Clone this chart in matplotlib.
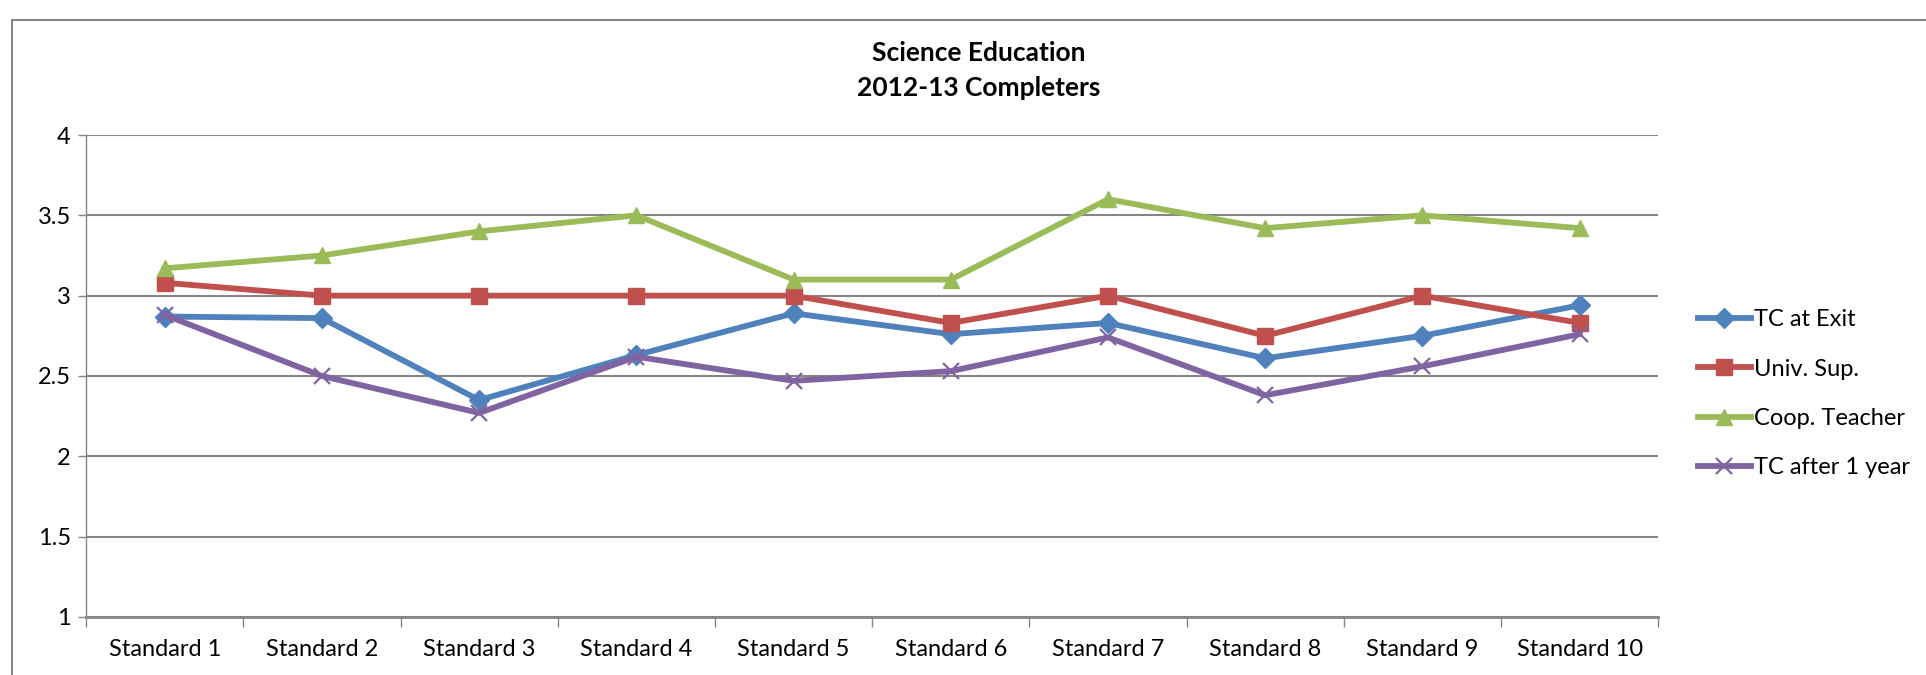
import matplotlib.pyplot as plt
from matplotlib.patches import Rectangle
from matplotlib.ticker import FixedLocator

plt.rcParams['font.family'] = ['Lato', 'DejaVu Sans']

# data
standards = ["Standard 1", "Standard 2", "Standard 3", "Standard 4", "Standard 5",
             "Standard 6", "Standard 7", "Standard 8", "Standard 9", "Standard 10"]
tc_exit = [2.87, 2.86, 2.35, 2.63, 2.89, 2.76, 2.83, 2.61, 2.75, 2.94]
univ_sup = [3.08, 3.0, 3.0, 3.0, 3.0, 2.83, 3.0, 2.75, 3.0, 2.83]
coop_teacher = [3.17, 3.25, 3.40, 3.5, 3.1, 3.1, 3.6, 3.42, 3.5, 3.42]
tc_after_1yr = [2.88, 2.5, 2.27, 2.62, 2.47, 2.53, 2.74, 2.38, 2.56, 2.76]
yticks = [1, 1.5, 2, 2.5, 3, 3.5, 4]

fig = plt.figure(figsize=(19.26, 6.75), dpi=100)
ax = fig.add_axes([0.0447, 0.086, 0.8163, 0.714])

x = list(range(len(standards)))
ax.plot(x, tc_exit, color="#4F81BD", lw=4.2, marker="D", ms=10, label="TC at Exit")
ax.plot(x, univ_sup, color="#C0504D", lw=4.2, marker="s", ms=11.5, label="Univ. Sup.")
ax.plot(x, coop_teacher, color="#9BBB59", lw=4.2, marker="^", ms=12, label="Coop. Teacher")
ax.plot(x, tc_after_1yr, color="#8064A2", lw=4.2, marker="x", ms=12, mew=1.6,
        label="TC after 1 year")

ax.set_xlim(-0.5, len(standards) - 0.5)
ax.set_ylim(1, 4)
ax.set_yticks(yticks)
ax.set_yticklabels([f"{v:g}" for v in yticks])
ax.set_xticks(x)
ax.set_xticklabels(standards)
ax.xaxis.set_minor_locator(FixedLocator([i - 0.5 for i in range(len(standards) + 1)]))
ax.tick_params(axis="x", which="major", length=0, pad=16, labelsize=17)
ax.tick_params(axis="x", which="minor", length=7, color="#868686", width=1)
ax.tick_params(axis="y", length=6, color="#868686", width=1, labelsize=17, pad=5)

ax.grid(axis="y", color="#868686", lw=1.5)
ax.set_axisbelow(True)
for s in ["top", "right"]:
    ax.spines[s].set_visible(False)
ax.spines["left"].set_color("#868686")
ax.spines["left"].set_linewidth(1)
ax.spines["bottom"].set_color("#868686")
ax.spines["bottom"].set_linewidth(2)

fig.text(0.508, 0.922, "Science Education", ha="center", va="center",
         fontsize=19, fontweight="bold")
fig.text(0.508, 0.869, "2012-13 Completers", ha="center", va="center",
         fontsize=19, fontweight="bold")

ax.legend(loc="center left", bbox_to_anchor=(1.025, 0.463), frameon=False, fontsize=17,
          handlelength=2.25, handletextpad=0.15, labelspacing=1.2,
          borderaxespad=0, borderpad=0)

fig.patches.append(Rectangle((0.0062, -0.1), 1.2, 1.07, transform=fig.transFigure,
                             fill=False, edgecolor="#888888", lw=1.5))

fig.savefig("out.png", dpi=100)
